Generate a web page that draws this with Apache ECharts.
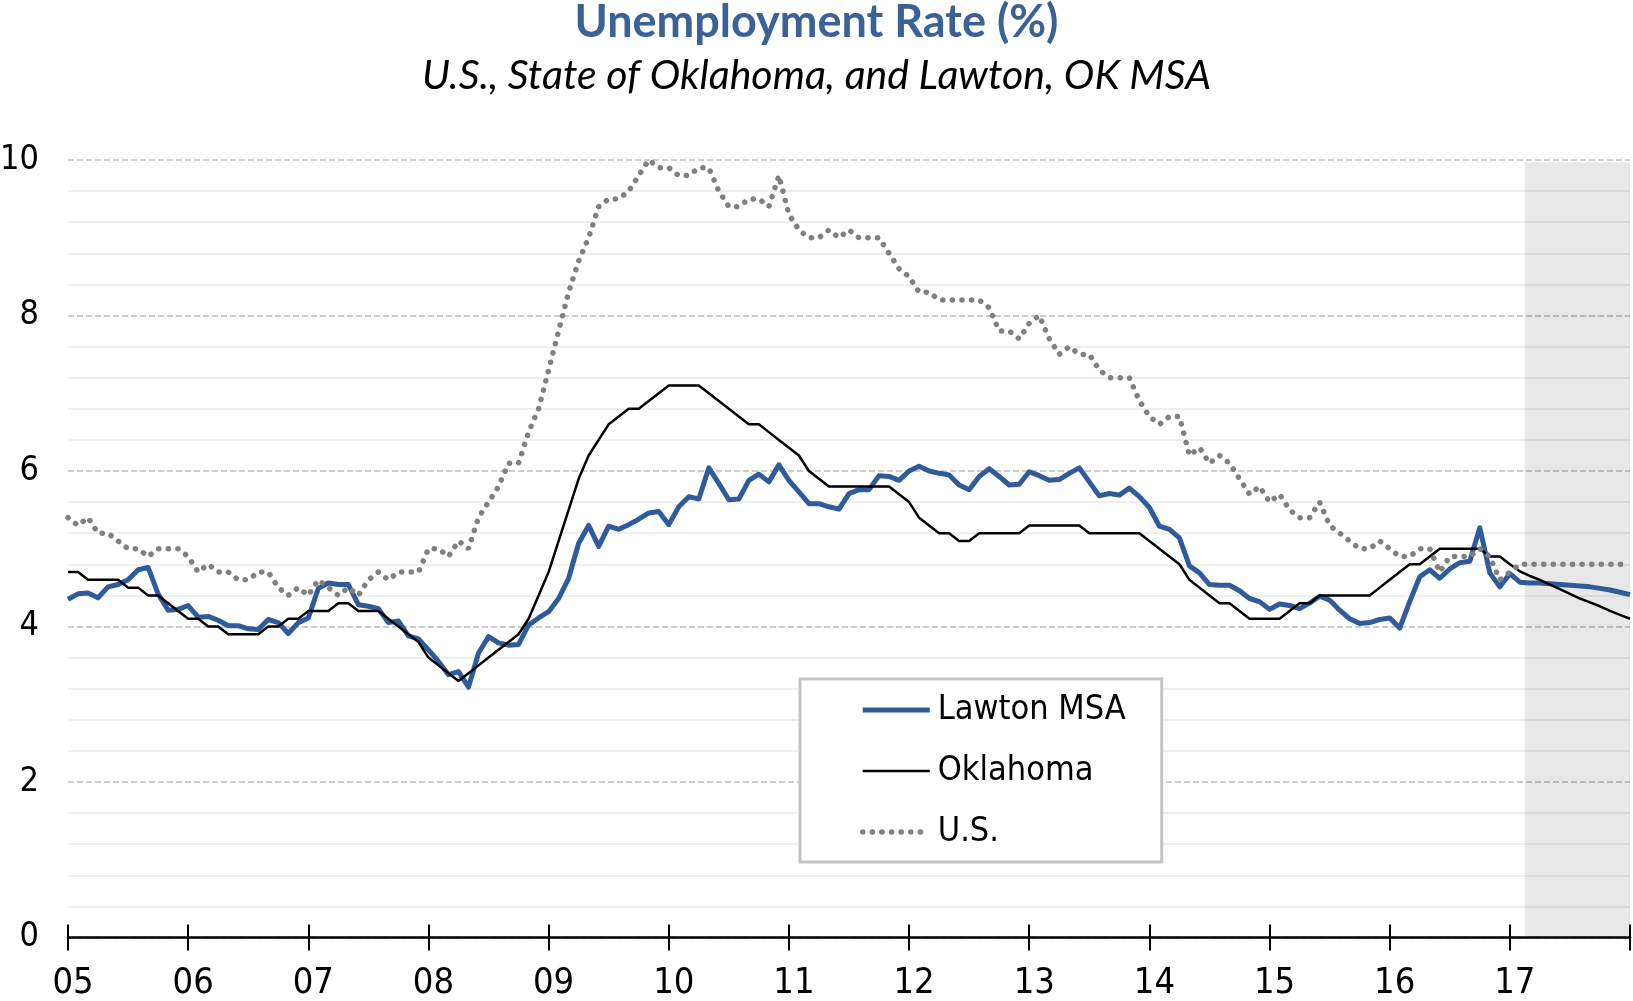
<!DOCTYPE html>
<html>
  <head>
    <meta charset="utf-8" />
    <title>Unemployment Rate (%)</title>
    <script src="https://cdn.jsdelivr.net/npm/echarts@6/dist/echarts.min.js"></script>
    <style>
      html, body { margin: 0; padding: 0; background: #fff; }
      #chart { width: 1633px; height: 1001px; }
    </style>
  </head>
  <body>
    <div id="chart"></div>
    <script type="text/javascript">
      // monthly values, one row per year, starting at the 05 tick
      var lawtonRate = [
        4.35, 4.42, 4.43, 4.37, 4.51, 4.54, 4.60, 4.73, 4.76, 4.42, 4.21, 4.22,
        4.27, 4.12, 4.13, 4.08, 4.01, 4.01, 3.97, 3.96, 4.09, 4.05, 3.91, 4.05,
        4.11, 4.49, 4.56, 4.54, 4.54, 4.28, 4.26, 4.23, 4.05, 4.07, 3.88, 3.84,
        3.70, 3.55, 3.38, 3.42, 3.22, 3.66, 3.87, 3.79, 3.76, 3.77, 4.02, 4.11,
        4.19, 4.36, 4.62, 5.07, 5.30, 5.03, 5.29, 5.25, 5.31, 5.38, 5.46, 5.48,
        5.31, 5.54, 5.67, 5.64, 6.04, 5.84, 5.63, 5.64, 5.88, 5.96, 5.86, 6.08,
        5.88, 5.73, 5.58, 5.58, 5.54, 5.51, 5.71, 5.76, 5.76, 5.94, 5.93, 5.88,
        6.00, 6.06, 6.00, 5.97, 5.95, 5.82, 5.76, 5.93, 6.03, 5.93, 5.82, 5.83,
        5.99, 5.94, 5.88, 5.89, 5.97, 6.04, 5.86, 5.68, 5.71, 5.69, 5.78, 5.67,
        5.53, 5.29, 5.25, 5.14, 4.78, 4.69, 4.54, 4.53, 4.53, 4.46, 4.36, 4.32,
        4.22, 4.29, 4.27, 4.23, 4.30, 4.39, 4.34, 4.21, 4.10, 4.04, 4.05, 4.09,
        4.11, 3.98, 4.32, 4.64, 4.73, 4.62, 4.74, 4.82, 4.84, 5.27, 4.69, 4.51,
        4.68, 4.57, 4.56, 4.56, 4.55, 4.54, 4.53, 4.52, 4.51, 4.49, 4.47, 4.44,
        4.41
      ];
      var oklahomaRate = [
        4.7, 4.7, 4.6, 4.6, 4.6, 4.6, 4.5, 4.5, 4.4, 4.4, 4.3, 4.2,
        4.1, 4.1, 4.0, 4.0, 3.9, 3.9, 3.9, 3.9, 4.0, 4.0, 4.1, 4.1,
        4.2, 4.2, 4.2, 4.3, 4.3, 4.2, 4.2, 4.2, 4.1, 4.0, 3.9, 3.8,
        3.6, 3.5, 3.4, 3.3, 3.4, 3.5, 3.6, 3.7, 3.8, 3.9, 4.1, 4.4,
        4.7, 5.1, 5.5, 5.9, 6.2, 6.4, 6.6, 6.7, 6.8, 6.8, 6.9, 7.0,
        7.1, 7.1, 7.1, 7.1, 7.0, 6.9, 6.8, 6.7, 6.6, 6.6, 6.5, 6.4,
        6.3, 6.2, 6.0, 5.9, 5.8, 5.8, 5.8, 5.8, 5.8, 5.8, 5.8, 5.7,
        5.6, 5.4, 5.3, 5.2, 5.2, 5.1, 5.1, 5.2, 5.2, 5.2, 5.2, 5.2,
        5.3, 5.3, 5.3, 5.3, 5.3, 5.3, 5.2, 5.2, 5.2, 5.2, 5.2, 5.2,
        5.1, 5.0, 4.9, 4.8, 4.6, 4.5, 4.4, 4.3, 4.3, 4.2, 4.1, 4.1,
        4.1, 4.1, 4.2, 4.3, 4.3, 4.4, 4.4, 4.4, 4.4, 4.4, 4.4, 4.5,
        4.6, 4.7, 4.8, 4.8, 4.9, 5.0, 5.0, 5.0, 5.0, 5.0, 4.9, 4.9,
        4.8, 4.71, 4.65, 4.6, 4.54, 4.48, 4.42, 4.36, 4.31, 4.26, 4.2, 4.15,
        4.1
      ];
      var usRate = [
        5.4, 5.3, 5.4, 5.2, 5.2, 5.1, 5.0, 5.0, 4.9, 5.0, 5.0, 5.0,
        4.9, 4.7, 4.8, 4.7, 4.7, 4.6, 4.6, 4.7, 4.7, 4.5, 4.4, 4.5,
        4.4, 4.6, 4.5, 4.4, 4.5, 4.4, 4.6, 4.7, 4.6, 4.7, 4.7, 4.7,
        5.0, 5.0, 4.9, 5.1, 5.0, 5.4, 5.6, 5.8, 6.1, 6.1, 6.5, 6.8,
        7.3, 7.8, 8.3, 8.7, 9.0, 9.4, 9.5, 9.5, 9.6, 9.8, 10.0, 9.9,
        9.9, 9.8, 9.8, 9.9, 9.9, 9.6, 9.4, 9.4, 9.5, 9.5, 9.4, 9.8,
        9.3, 9.1, 9.0, 9.0, 9.1, 9.0, 9.1, 9.0, 9.0, 9.0, 8.8, 8.6,
        8.5, 8.3, 8.3, 8.2, 8.2, 8.2, 8.2, 8.2, 8.1, 7.8, 7.8, 7.7,
        7.9, 8.0, 7.7, 7.5, 7.6, 7.5, 7.5, 7.3, 7.2, 7.2, 7.2, 6.9,
        6.7, 6.6, 6.7, 6.7, 6.2, 6.3, 6.1, 6.2, 6.1, 5.9, 5.7, 5.8,
        5.6, 5.7, 5.5, 5.4, 5.4, 5.6, 5.3, 5.2, 5.1, 5.0, 5.0, 5.1,
        5.0, 4.9, 4.9, 5.0, 5.0, 4.7, 4.9, 4.9, 4.9, 5.0, 4.9, 4.6,
        4.7, 4.8, 4.8, 4.8, 4.8, 4.8, 4.8, 4.8, 4.8, 4.8, 4.8, 4.8,
        4.8
      ];
      var firstYear = 2005;
      var lastYear = 2018;
      var forecastFrom = 2017.125;

      function toPoints(values) {
        var pts = [];
        for (var i = 0; i < values.length; i++) {
          pts.push([firstYear + i / 12, values[i]]);
        }
        return pts;
      }

      var narrow = "'Liberation Sans Narrow', 'DejaVu Sans Condensed', 'Liberation Sans', sans-serif";
      var chart = echarts.init(document.getElementById("chart"), null, { renderer: "canvas" });

      var option = {
        animation: false,
        backgroundColor: "#fff",
        title: [
          {
            text: "Unemployment Rate (%)",
            left: "center",
            top: 0,
            padding: [0, 0, 0, 13],
            textStyle: { fontFamily: "Lato", fontWeight: "bold", fontSize: 45, color: "#3a6296" },
          },
          {
            text: "U.S., State of Oklahoma, and Lawton, OK MSA",
            left: "center",
            top: 55,
            padding: [0, 0, 0, 13],
            textStyle: { fontFamily: "Lato", fontStyle: "italic", fontWeight: "normal", fontSize: 41, color: "#000" },
          },
        ],
        grid: { left: 68, right: 3, top: 160, bottom: 63.5, containLabel: false, outerBoundsMode: "none" },
        legend: {
          data: ["Lawton MSA", "Oklahoma", "U.S."],
          orient: "vertical",
          left: 800,
          top: 679,
          itemWidth: 67,
          itemHeight: 14,
          itemGap: 23,
          padding: [12, 36, 11, 60],
          borderColor: "#c4c4c4",
          borderWidth: 3,
          backgroundColor: "#fff",
          selectedMode: false,
          itemStyle: { color: "rgba(0,0,0,0)", borderWidth: 0, opacity: 0 },
          lineStyle: { width: "inherit" },
          textStyle: {
            fontFamily: narrow,
            fontSize: 34,
            lineHeight: 38,
            color: "#000",
            padding: [0, 0, 0, 3],
          },
        },
        xAxis: [
          {
            type: "value",
            min: firstYear,
            max: lastYear,
            interval: 1,
            position: "bottom",
            axisLine: { lineStyle: { color: "#000", width: 2.5 } },
            axisTick: { length: 13, lineStyle: { color: "#000", width: 2 } },
            axisLabel: {
              margin: 28,
              padding: [0, 0, 0, 10],
              fontFamily: narrow,
              fontSize: 36,
              color: "#000",
              formatter: function (v) {
                return v === lastYear ? "" : String(v).slice(2);
              },
            },
            splitLine: { show: false },
          },
          {
            type: "value",
            min: firstYear,
            max: lastYear,
            interval: 1,
            position: "bottom",
            axisLine: { show: false },
            axisTick: { inside: true, length: 13, lineStyle: { color: "#000", width: 2 } },
            axisLabel: { show: false },
            splitLine: { show: false },
          },
        ],
        yAxis: {
          type: "value",
          min: 0,
          max: 10,
          interval: 2,
          axisLine: { show: false },
          axisTick: { show: false },
          axisLabel: { margin: 29, fontFamily: narrow, fontSize: 34, color: "#000" },
          splitLine: { lineStyle: { color: "#bdbdbd", type: [6, 3], width: 1.5 } },
          minorTick: { show: false, splitNumber: 5 },
          minorSplitLine: { show: true, lineStyle: { color: "#efefef", width: 2 } },
        },
        series: [
          {
            name: "forecast",
            type: "line",
            data: [],
            silent: true,
            markArea: {
              silent: true,
              itemStyle: { color: "rgba(0,0,0,0.09)" },
              data: [[{ xAxis: forecastFrom, yAxis: 0 }, { xAxis: lastYear, yAxis: 9.97 }]],
            },
          },
          {
            name: "Lawton MSA",
            type: "line",
            symbol: "none",
            data: toPoints(lawtonRate),
            lineStyle: { color: "#2f5b9a", width: 5, join: "round" },
            itemStyle: { color: "#2f5b9a" },
          },
          {
            name: "Oklahoma",
            type: "line",
            symbol: "none",
            data: toPoints(oklahomaRate),
            lineStyle: { color: "#000", width: 2.5, join: "round" },
            itemStyle: { color: "#000" },
          },
          {
            name: "U.S.",
            type: "line",
            symbol: "none",
            data: toPoints(usRate),
            lineStyle: { color: "#808080", width: 5.5, type: [0.1, 9.5], cap: "round" },
            itemStyle: { color: "#808080" },
          },
        ],
      };

      chart.setOption(option);
    </script>
  </body>
</html>
